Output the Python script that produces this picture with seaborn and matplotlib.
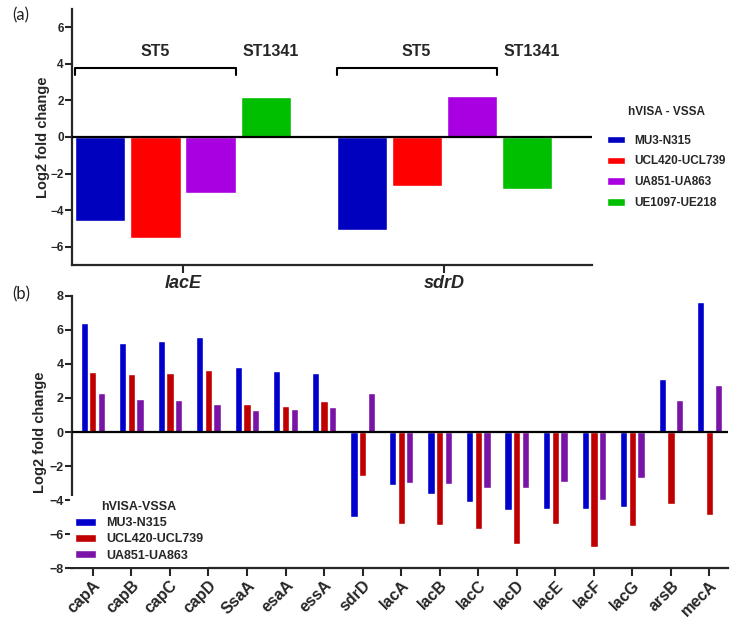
import pandas as pd
import matplotlib.pyplot as plt
import seaborn as sns

# panel (a): lacE / sdrD, four hVISA-VSSA pairs
genes_a = ['lacE', 'sdrD']
pairs_a = ['MU3-N315', 'UCL420-UCL739', 'UA851-UA863', 'UE1097-UE218']
mu3_a = [-4.6, -5.06]
ucl_a = [-5.5, -2.67]
ua_a = [-3.03, 2.26]
ue_a = [2.2, -2.83]
colors_a = ['#0000BF', '#FF0000', '#A800E0', '#00BF00']
groups_a = ['ST5', 'ST1341']

# panel (b): all genes, three ST5 pairs
genes_b = ['capA', 'capB', 'capC', 'capD', 'SsaA', 'esaA', 'essA', 'sdrD', 'lacA',
           'lacB', 'lacC', 'lacD', 'lacE', 'lacF', 'lacG', 'arsB', 'mecA']
pairs_b = ['MU3-N315', 'UCL420-UCL739', 'UA851-UA863']
mu3_b = [6.38, 5.24, 5.34, 5.59, 3.85, 3.57, 3.47, -5.0, -3.12,
         -3.65, -4.14, -4.59, -4.55, -4.53, -4.39, 3.12, 7.67]
ucl_b = [3.53, 3.39, 3.47, 3.63, 1.63, 1.51, 1.82, -2.6, -5.39,
         -5.45, -5.7, -6.59, -5.41, -6.74, -5.53, -4.21, -4.88]
ua_b = [2.28, 1.96, 1.88, 1.63, 1.32, 1.35, 1.49, 2.29, -3.0,
        -3.06, -3.31, -3.27, -2.96, -4.02, -2.72, 1.86, 2.75]
colors_b = ['#0000CC', '#C00000', '#7A14A6']


def long_form(genes, pairs, series):
    rows = []
    for p, vals in zip(pairs, series):
        for g, v in zip(genes, vals):
            rows.append({'gene': g, 'pair': p, 'lfc': v})
    return pd.DataFrame(rows)


df_a = long_form(genes_a, pairs_a, [mu3_a, ucl_a, ua_a, ue_a])
df_b = long_form(genes_b, pairs_b, [mu3_b, ucl_b, ua_b])

sns.set_style('ticks')
plt.rcParams['font.family'] = ['Liberation Sans', 'DejaVu Sans']
plt.rcParams['axes.linewidth'] = 1.6

fig = plt.figure(figsize=(7.4, 6.27), dpi=100)
ax1 = fig.add_axes([0.0973, 0.577, 0.703, 0.409])
ax2 = fig.add_axes([0.0973, 0.094, 0.887, 0.434])

# ---- (a)
sns.barplot(data=df_a, x='gene', y='lfc', hue='pair', palette=colors_a,
            width=0.843, gap=0.09, saturation=1, errorbar=None, ax=ax1)
ax1.axhline(0, color='black', lw=1.6, zorder=3)
ax1.set_ylim(-7, 7)
ax1.set_xlim(-0.425, 1.567)
ax1.set_yticks(range(-6, 7, 2))
ax1.set_xlabel('')
ax1.set_ylabel('Log2 fold change', fontsize=10.5, fontweight='bold', labelpad=0)
ax1.tick_params(axis='y', labelsize=8.5, width=1.5, length=5, pad=1)
ax1.tick_params(axis='x', labelsize=13, width=1.5, length=6, pad=1)
for lab in ax1.get_yticklabels():
    lab.set_fontweight('bold')
for lab in ax1.get_xticklabels():
    lab.set_fontweight('bold')
    lab.set_fontstyle('italic')
sns.despine(ax=ax1)

# brackets over the ST5 bars
for i in range(len(genes_a)):
    left = ax1.containers[0][i].get_x()
    right = ax1.containers[2][i].get_x() + ax1.containers[2][i].get_width()
    ax1.plot([left, left, right, right], [3.4, 3.78, 3.78, 3.4], color='black',
             lw=1.5, clip_on=False)
    ax1.text((left + right) / 2, 4.68, groups_a[0], ha='center', va='center',
             fontsize=11.5, fontweight='bold')
    g = ax1.containers[3][i]
    ax1.text(g.get_x() + g.get_width() / 2 + 0.02, 4.68, groups_a[1], ha='center',
             va='center', fontsize=11.5, fontweight='bold')

leg1 = ax1.legend(title='hVISA - VSSA', loc='center left', bbox_to_anchor=(1.02, 0.42),
                  frameon=False, prop={'weight': 'bold', 'size': 8.5},
                  handlelength=1.5, handleheight=0.6, labelspacing=0.75,
                  borderaxespad=0)
leg1.get_title().set_fontweight('bold')
leg1.get_title().set_fontsize(8.5)
leg1._legend_box.sep = 12

# ---- (b)
sns.barplot(data=df_b, x='gene', y='lfc', hue='pair', palette=colors_b,
            width=0.675, gap=0.16, saturation=1, errorbar=None, ax=ax2)
ax2.axhline(0, color='black', lw=1.6, zorder=3)
ax2.set_ylim(-8, 8)
ax2.set_xlim(-0.54, 16.49)
ax2.set_yticks(range(-8, 9, 2))
ax2.set_xlabel('')
ax2.set_ylabel('Log2 fold change', fontsize=10.5, fontweight='bold', labelpad=2)
ax2.tick_params(axis='y', labelsize=9, width=1.5, length=5, pad=1)
ax2.tick_params(axis='x', labelsize=11.5, width=1.5, length=6, pad=1)
for lab in ax2.get_yticklabels():
    lab.set_fontweight('bold')
for lab in ax2.get_xticklabels():
    lab.set_fontweight('bold')
    lab.set_rotation(45)
    lab.set_ha('right')
    lab.set_rotation_mode('anchor')
sns.despine(ax=ax2)

leg2 = ax2.legend(title='hVISA-VSSA', loc='lower left', bbox_to_anchor=(-0.005, 0.0),
                  frameon=True, fancybox=False, framealpha=1, facecolor='white',
                  edgecolor='none', prop={'weight': 'bold', 'size': 9},
                  handlelength=1.7, handleheight=0.6, labelspacing=0.35,
                  borderaxespad=0.1)
leg2.get_title().set_fontweight('bold')
leg2.get_title().set_fontsize(9)

fig.text(0.016, 0.967, '(a)', fontsize=12, family='Lato', color='#222222')
fig.text(0.016, 0.522, '(b)', fontsize=12, family='Lato', color='#222222')

fig.savefig('out.png', dpi=100)
